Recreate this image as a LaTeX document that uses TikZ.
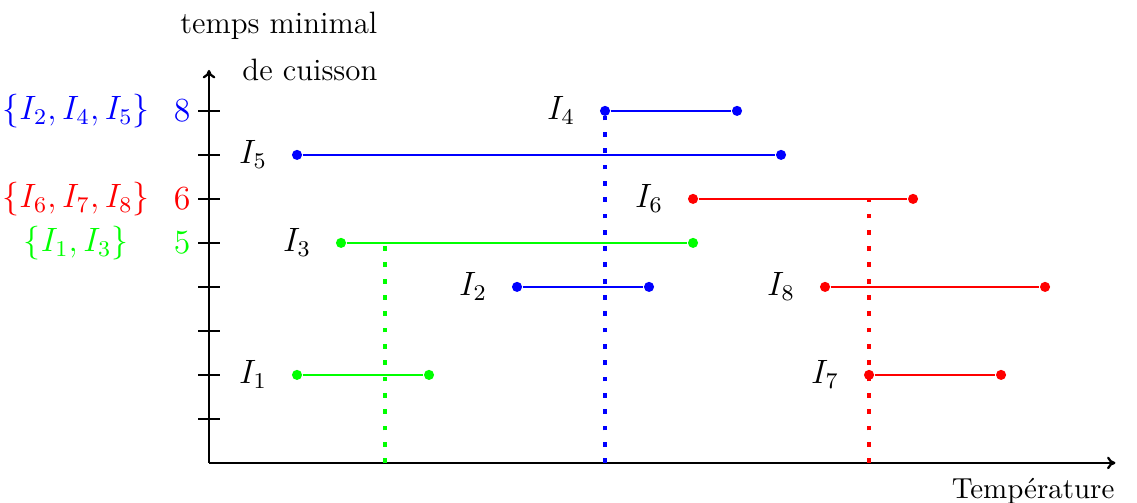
\documentclass[tikz,border=0pt]{standalone}
\usetikzlibrary{arrows.meta}
\definecolor{pgreen}{RGB}{0,255,0}
\begin{document}
\begin{tikzpicture}[x=0.55cm,y=0.55cm,
  axisline/.style={line width=0.8pt,-{To[length=3pt,width=4.5pt]}},
  tickline/.style={line width=0.8pt},
  interval/.style={line width=0.8pt},
  dotline/.style={line width=1.7pt,dash pattern=on 1.7pt off 4.1pt},
  enddot/.style={circle,fill,inner sep=0pt,minimum size=3.6pt},
  lab/.style={inner sep=1pt},
  axlab/.style={inner sep=0pt,font=\fontsize{11}{13}\selectfont}]
\useasboundingbox (-4.75,-0.909) rectangle (21.09,10.52);
% axes
\coordinate (O) at (0,0);
\coordinate (Xend) at (20.6,0);
\coordinate (Yend) at (0,8.93);
\draw[axisline] (O) -- (Xend);
\draw[axisline] (O) -- (Yend);
\foreach \k in {1,...,8}{
  \coordinate (tl\k) at (-0.25,\k);
  \coordinate (tr\k) at (0.25,\k);
  \draw[tickline] (tl\k) -- (tr\k);
}
% axis labels
\node[axlab,anchor=base east] (ylab1) at (3.84,9.77) {temps minimal};
\node[axlab,anchor=base east] (ylab2) at (3.84,8.70) {de cuisson};
\node[axlab,anchor=base east,font=\fontsize{10.3}{12}\selectfont] (xlab) at (20.59,-0.80) {Température};
% value labels
\node[blue] (v8) at (-0.61,8) {\large $8$};
\node[red] (v6) at (-0.61,6) {\large $6$};
\node[pgreen] (v5) at (-0.61,5) {\large $5$};
\node[blue] (s8) at (-3.02,8) {\large $\{I_2,I_4,I_5\}$};
\node[red] (s6) at (-3.02,6) {\large $\{I_6,I_7,I_8\}$};
\node[pgreen] (s5) at (-3.02,5) {\large $\{I_1,I_3\}$};
% intervals: name/start/end/y/colour
\foreach \n/\a/\b/\y/\c in {1/2/5/2/pgreen,2/7/10/4/blue,3/3/11/5/pgreen,4/9/12/8/blue,5/2/13/7/blue,6/11/16/6/red,7/15/18/2/red,8/14/19/4/red}{
  \node[enddot,\c] (a\n) at (\a,\y) {};
  \node[enddot,\c] (b\n) at (\b,\y) {};
  \draw[interval,\c] (a\n) -- (b\n);
  \pgfmathsetmacro{\lx}{\a-1}
  \node[lab] (l\n) at (\lx,\y) {\large $I_{\n}$};
}
% dotted verticals
\coordinate (g0) at (4,0); \coordinate (g1) at (4,5);
\coordinate (bl0) at (9,0);
\coordinate (r0) at (15,0); \coordinate (r1) at (15,6);
\draw[dotline,pgreen] (g0) -- (g1);
\draw[dotline,blue] (bl0) -- (a4.center);
\draw[dotline,red] (r0) -- (r1);
\end{tikzpicture}
\end{document}
